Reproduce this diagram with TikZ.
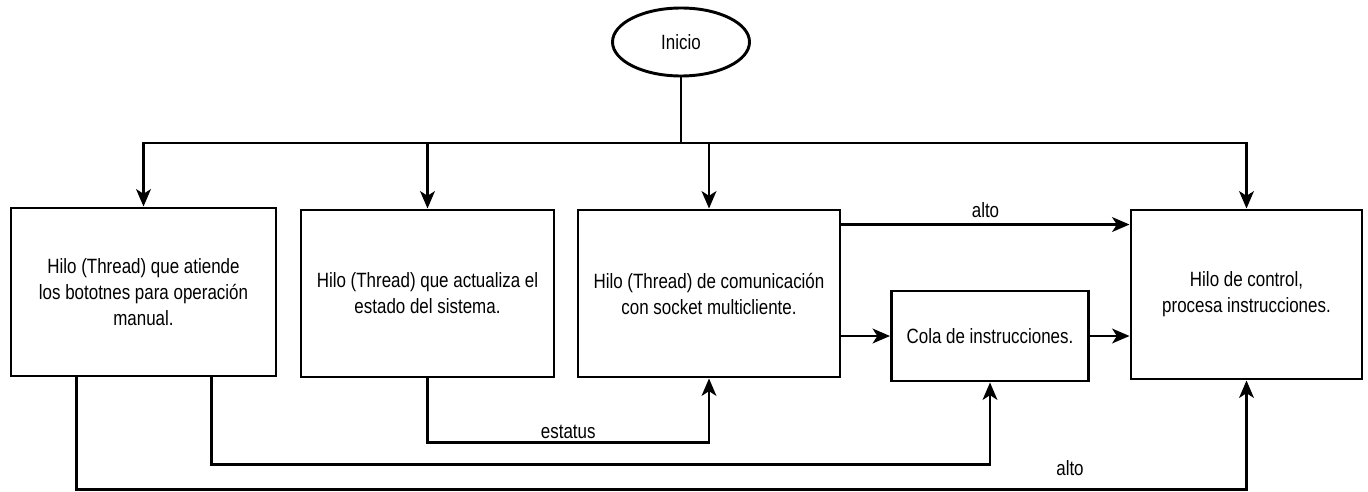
\documentclass[tikz,border=0pt]{standalone}
\usepackage{fontspec}
\setmainfont[FakeStretch=0.82]{Liberation Sans}
\usetikzlibrary{arrows.meta,calc,shapes.geometric}
\begin{document}
\begin{tikzpicture}[x=0.75pt,y=-0.75pt,
  every node/.style={font=\fontsize{15.5pt}{19.5pt}\selectfont},
  box/.style={draw,line width=2.2pt,rectangle,align=center,inner sep=0pt},
  startnode/.style={draw,line width=2.2pt,ellipse,inner sep=0pt},
  arr/.style={line width=2.2pt,-{Stealth[length=13pt,width=11pt,inset=3.5pt]}},
  ln/.style={line width=2.2pt},
  lbl/.style={inner sep=0pt}]
\useasboundingbox (0,0) rectangle (1368,492);
\node[startnode,minimum width=102.75pt,minimum height=51pt] (start) at (681,42) {Inicio};
\node[box,minimum width=198.75pt,minimum height=126pt] (b1) at (143.5,292) {Hilo (Thread) que atiende\\los bototnes para operación\\manual.};
\node[box,minimum width=189.75pt,minimum height=125.25pt] (b2) at (427.5,293.5) {Hilo (Thread) que actualiza el\\estado del sistema.};
\node[box,minimum width=196.5pt,minimum height=125.25pt] (b3) at (709,293.5) {Hilo (Thread) de comunicación\\con socket multicliente.};
\node[box,minimum width=147.75pt,minimum height=67.5pt] (cola) at (990,336) {Cola de instrucciones.};
\node[box,minimum width=173.25pt,minimum height=126.75pt] (b5) at (1246.5,294.5) {Hilo de control,\\procesa instrucciones.};
\coordinate (j) at (681,143);
\draw[ln] (start.south) -- (j);
\draw[arr] (j) -| (b1.north);
\draw[arr] (j) -| (b2.north);
\draw[arr] (j) -| (b3.north);
\draw[arr] (j) -| (b5.north);
\coordinate (a1) at ([yshift=-12pt]b3.north east);
\draw[arr] (a1) -- (b5.west |- a1) node[lbl,midway,above=4pt] {alto};
\draw[arr] (b3.east |- cola.west) -- (cola.west);
\draw[arr] (cola.east) -- (b5.west |- cola.east);
\draw[arr] (b2.south) -- ++(0,64) coordinate (e1) -| (b3.south);
\node[lbl,above=3pt] (est) at ($(e1)!0.5!(b3.south |- e1)$) {estatus};
\coordinate (c1) at ([xshift=-49.5pt]b1.south east);
\draw[arr] (c1) -- ++(0,87) -| (cola.south);
\coordinate (d1) at ([xshift=50.25pt]b1.south west);
\draw[arr] (d1) -- ++(0,112) -| (b5.south);
\node[lbl] (alto2) at (1070,468) {alto};
\end{tikzpicture}
\end{document}
